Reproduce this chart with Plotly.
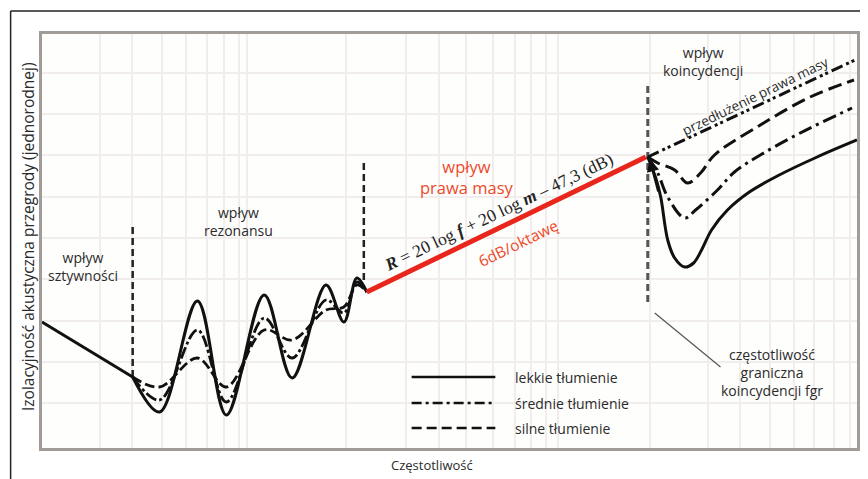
import plotly.graph_objects as go

# ---- data (x: position along frequency axis, y: sound insulation, arbitrary units) ----
grid_x = [58, 90, 120, 145, 166, 183, 198, 206, 305, 365, 398, 426, 453, 475, 491,
          506, 518, 610, 668, 701, 731, 755, 775, 795, 811]
grid_y = [45, 86, 127, 169, 210, 251, 293, 334, 375]

stiff_x = [0, 91]
stiff_y = [126, 71]

res_x = [91, 118, 156, 185, 223, 251, 285, 303, 316, 326]
res_light = [71, 36, 147, 33, 153, 70, 163, 126, 170, 156]
res_medium = [71, 48, 118, 46, 130, 90, 148, 135, 166, 156]
res_strong = [71, 61, 90, 61, 118, 108, 138, 141, 163, 156]

mass_x = [326, 606]
mass_y = [156, 291]

ext_x = [608, 816]
ext_y = [291, 388]

coin_light_x = [608, 616, 621, 628, 635, 645, 654, 662, 672, 688, 710, 740, 778, 818]
coin_light_y = [291, 270, 251, 208, 190, 181, 185, 198, 218, 238, 256, 273, 291, 308]
coin_medium_x = [608, 618, 628, 645, 656, 678, 695, 721, 761, 813]
coin_medium_y = [291, 275, 251, 230, 238, 258, 276, 293, 315, 340]
coin_strong_x = [608, 618, 635, 648, 661, 675, 721, 771, 815]
coin_strong_y = [291, 285, 278, 265, 275, 293, 323, 351, 368]

div1_x, div1_y = [91, 91], [71, 221]
div2_x, div2_y = [323, 323], [168, 288]
div3_x, div3_y = [608, 608], [146, 365]

legend_labels = ["lekkie tłumienie", "średnie tłumienie", "silne tłumienie"]

BLACK = "#111111"
RED = "#e8261c"
TXT = "#2b2b2b"
FONT = "Open Sans"
DASH_MED = "12px,3px,3px,3px"
DASH_STR = "10px,4px"

fig = go.Figure()

def add(x, y, color=BLACK, width=3, dash="solid", spline=True):
    fig.add_trace(go.Scatter(x=x, y=y, mode="lines", showlegend=False, hoverinfo="skip",
                             line=dict(color=color, width=width, dash=dash,
                                       shape="spline" if spline else "linear", smoothing=1.0)))

# dividers
add(div1_x, div1_y, color="#222222", width=2.5, dash="7px,4px", spline=False)
add(div2_x, div2_y, color="#222222", width=2.5, dash="7px,4px", spline=False)
add(div3_x, div3_y, color="#555555", width=3, dash="7px,4px", spline=False)

# stiffness
add(stiff_x, stiff_y, spline=False)
# resonance
add(res_x, res_strong, width=2.8, dash=DASH_STR)
add(res_x, res_medium, width=2.8, dash=DASH_MED)
add(res_x, res_light, width=3)
# mass law
add(mass_x, mass_y, color=RED, width=5, spline=False)
# extension of mass law
add(ext_x, ext_y, width=3, dash="12px,4px,3px,3px,3px,4px", spline=False)
# coincidence
add(coin_strong_x, coin_strong_y, width=3, dash="14px,6px")
add(coin_medium_x, coin_medium_y, width=3, dash="14px,5px,3px,5px")
add(coin_light_x, coin_light_y, width=3)

# legend (drawn manually)
leg_y = [71, 45, 20]
leg_dash = ["solid", "10px,4px,3px,4px", "10px,5px"]
shapes = []
for yy, d in zip(leg_y, leg_dash):
    shapes.append(dict(type="line", xref="x", yref="y", x0=371, x1=455, y0=yy, y1=yy,
                       line=dict(color=BLACK, width=2.5, dash=d)))
# pointer line for coincidence frequency
shapes.append(dict(type="line", xref="x", yref="y", x0=615, y0=135, x1=681, y1=81,
                   line=dict(color="#555555", width=1.2)))
# outer frame
shapes.append(dict(type="line", xref="paper", yref="paper", x0=-0.0385, x1=1.02, y0=1.0556, y1=1.0556,
                   line=dict(color="#222222", width=1.5)))
shapes.append(dict(type="line", xref="paper", yref="paper", x0=-0.0385, x1=-0.0385, y0=1.0556, y1=-0.09,
                   line=dict(color="#222222", width=1.5)))

ann = []
def text(x, y, t, size=14, color=TXT, angle=0, xanchor="center", family=FONT):
    ann.append(dict(x=x, y=y, xref="x", yref="y", text=t, showarrow=False, textangle=angle,
                    xanchor=xanchor, yanchor="middle",
                    font=dict(size=size, color=color, family=family)))

text(41, 182, "wpływ<br>sztywności")
text(197, 227, "wpływ<br>rezonansu")
text(427, 271, "wpływ<br>prawa masy", size=16.5, color="#ee4a2a")
text(663, 387, "wpływ<br>koincydencji")
text(733, 76, "częstotliwość<br>graniczna<br>koincydencji fgr")
for yy, lab in zip(leg_y, legend_labels):
    text(473, yy, lab, xanchor="left")
text(458, 236, "<b><i>R</i></b> = 20 log <b><i>f</i></b> + 20 log <b><i>m</i></b> – 47,3 (dB)",
     size=17.5, angle=-25.5, family="Liberation Serif", color="#222222")
text(478, 205, "6dB/oktawę", size=15.5, angle=-26, color="#ee4a2a")
text(716, 352, "przedłużenie prawa masy", size=13.5, angle=-26)

# arrow at coincidence start
ann.append(dict(x=610, y=289, ax=619, ay=255, xref="x", yref="y", axref="x", ayref="y",
                showarrow=True, arrowhead=2, arrowsize=1, arrowwidth=2.5, arrowcolor=BLACK, text=""))

# axis titles
ann.append(dict(x=-0.017, y=0.51, xref="paper", yref="paper", showarrow=False, textangle=-90,
                xanchor="center", yanchor="middle",
                text="Izolacyjność akustyczna przegrody (jednorodnej)",
                font=dict(size=15.5, color=TXT, family=FONT)))
ann.append(dict(x=0.478, y=-0.041, xref="paper", yref="paper", showarrow=False,
                xanchor="center", yanchor="middle",
                text="Częstotliwość", font=dict(size=13, color=TXT, family=FONT)))

# page body has an 8px margin, so the figure is shifted by 8px: compensate in size/margins
fig.update_layout(
    width=860, height=471,
    margin=dict(l=34, r=8, t=26, b=31),
    paper_bgcolor="white", plot_bgcolor="#fefefd",
    shapes=shapes, annotations=ann, showlegend=False,
    xaxis=dict(range=[0, 818], tickvals=grid_x, showticklabels=False, ticks="",
               showgrid=True, gridcolor="#f2eded", gridwidth=1.5, zeroline=False,
               showline=True, mirror=True, linecolor="#a19c97", linewidth=3, fixedrange=True),
    yaxis=dict(range=[0, 414], tickvals=grid_y, showticklabels=False, ticks="",
               showgrid=True, gridcolor="#f2eded", gridwidth=1.5, zeroline=False,
               showline=True, mirror=True, linecolor="#a19c97", linewidth=3, fixedrange=True),
)

fig.write_html("out.html")
